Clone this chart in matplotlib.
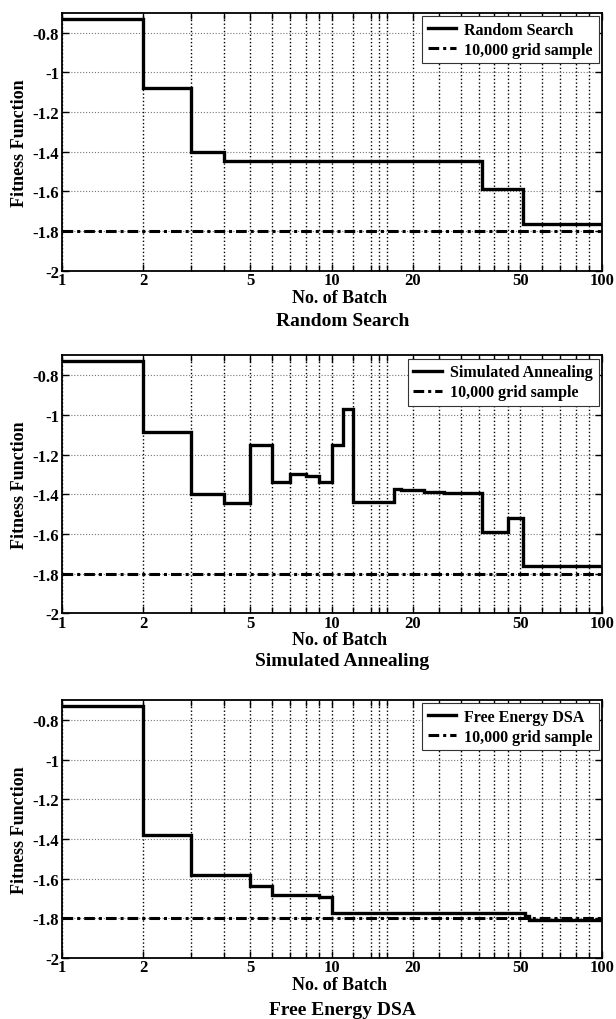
import matplotlib
matplotlib.use("Agg")
import matplotlib.pyplot as plt

plt.rcParams['font.family'] = ['Liberation Serif', 'DejaVu Serif']
plt.rcParams['font.weight'] = 'bold'

# step curves: value holds from batch[i] to batch[i+1]
rs_batch = [1, 2, 3, 4, 36, 51, 100]
rs_fitness = [-0.73, -1.08, -1.40, -1.445, -1.59, -1.765, -1.765]

sa_batch = [1, 2, 3, 4, 5, 6, 7, 8, 9, 10, 11, 12, 17, 18, 22, 26, 36, 45, 51, 100]
sa_fitness = [-0.73, -1.085, -1.40, -1.445, -1.15, -1.337, -1.30, -1.31, -1.337,
              -1.15, -0.97, -1.44, -1.375, -1.38, -1.387, -1.392, -1.59, -1.52,
              -1.76, -1.76]

fe_batch = [1, 2, 3, 5, 6, 9, 10, 52, 54, 100]
fe_fitness = [-0.73, -1.38, -1.58, -1.635, -1.685, -1.695, -1.775, -1.79, -1.81, -1.81]

grid_batch = [1, 100]
grid_fitness = [-1.80, -1.80]

panels = [
    (rs_batch, rs_fitness, "Random Search"),
    (sa_batch, sa_fitness, "Simulated Annealing"),
    (fe_batch, fe_fitness, "Free Energy DSA"),
]

major_x = [1, 2, 5, 10, 20, 50, 100]
minor_x = [3, 4, 6, 7, 8, 9, 12, 14, 15, 16, 25, 30, 35, 40, 45, 60, 70, 80, 90]
y_ticks = [-2, -1.8, -1.6, -1.4, -1.2, -1, -0.8]
y_labels = ['-2', '-1.8', '-1.6', '-1.4', '-1.2', '-1', '-0.8']

fig = plt.figure(figsize=(6.16, 10.2), dpi=100)

left, width, height = 0.1002, 0.8766, 0.2529
bottoms = [0.7336, 0.3977, 0.0598]
label_off = [27, 26, 26]
sub_off = [50, 47, 51]

for i, (bx, fy, name) in enumerate(panels):
    ax = fig.add_axes([left, bottoms[i], width, height])

    ax.step(bx, fy, where='post', color='black', linewidth=2.4,
            solid_joinstyle='miter', label=name)
    ax.plot(grid_batch, grid_fitness, color='black', linewidth=2.2,
            dashes=(3.5, 1.3, 1.0, 1.3), label='10,000 grid sample')

    ax.set_xscale('log')
    ax.set_xlim(1, 100)
    ax.set_ylim(-2, -0.7)

    ax.set_xticks(major_x)
    ax.set_xticklabels([str(v) for v in major_x])
    ax.set_xticks(minor_x, minor=True)
    ax.set_xticklabels([], minor=True)
    ax.set_yticks(y_ticks)
    ax.set_yticklabels(y_labels)

    ax.tick_params(which='both', direction='in', top=True, right=True,
                   labelsize=12, width=1.0)
    ax.tick_params(which='major', length=5)
    ax.tick_params(which='minor', length=4)
    ax.tick_params(axis='y', pad=2)
    ax.tick_params(axis='x', pad=1)

    ax.grid(True, axis='x', which='both', color='black', linestyle=':', linewidth=1.0)
    ax.grid(True, axis='y', which='major', color='#777777', linestyle=':', linewidth=0.8)
    ax.set_axisbelow(True)

    for sp in ax.spines.values():
        sp.set_linewidth(1.3)

    ax.set_ylabel('Fitness Function', fontsize=13, fontweight='bold', labelpad=3)

    ax.annotate('No. of Batch', xy=(0.515, 0), xycoords='axes fraction',
                xytext=(0, -label_off[i] * 0.72), textcoords='offset points',
                ha='center', va='center', fontsize=13, fontweight='bold')
    ax.annotate(name, xy=(0.52, 0), xycoords='axes fraction',
                xytext=(0, -sub_off[i] * 0.72), textcoords='offset points',
                ha='center', va='center', fontsize=14, fontweight='bold')

    leg = ax.legend(loc='upper right', handlelength=1.8,
                    handletextpad=0.5, borderaxespad=0.2, borderpad=0.35,
                    labelspacing=0.25, fancybox=False, framealpha=1,
                    prop={'weight': 'bold', 'size': 11.5})
    leg.get_frame().set_edgecolor('#333333')
    leg.get_frame().set_linewidth(0.8)

fig.savefig('out.png', dpi=100)
